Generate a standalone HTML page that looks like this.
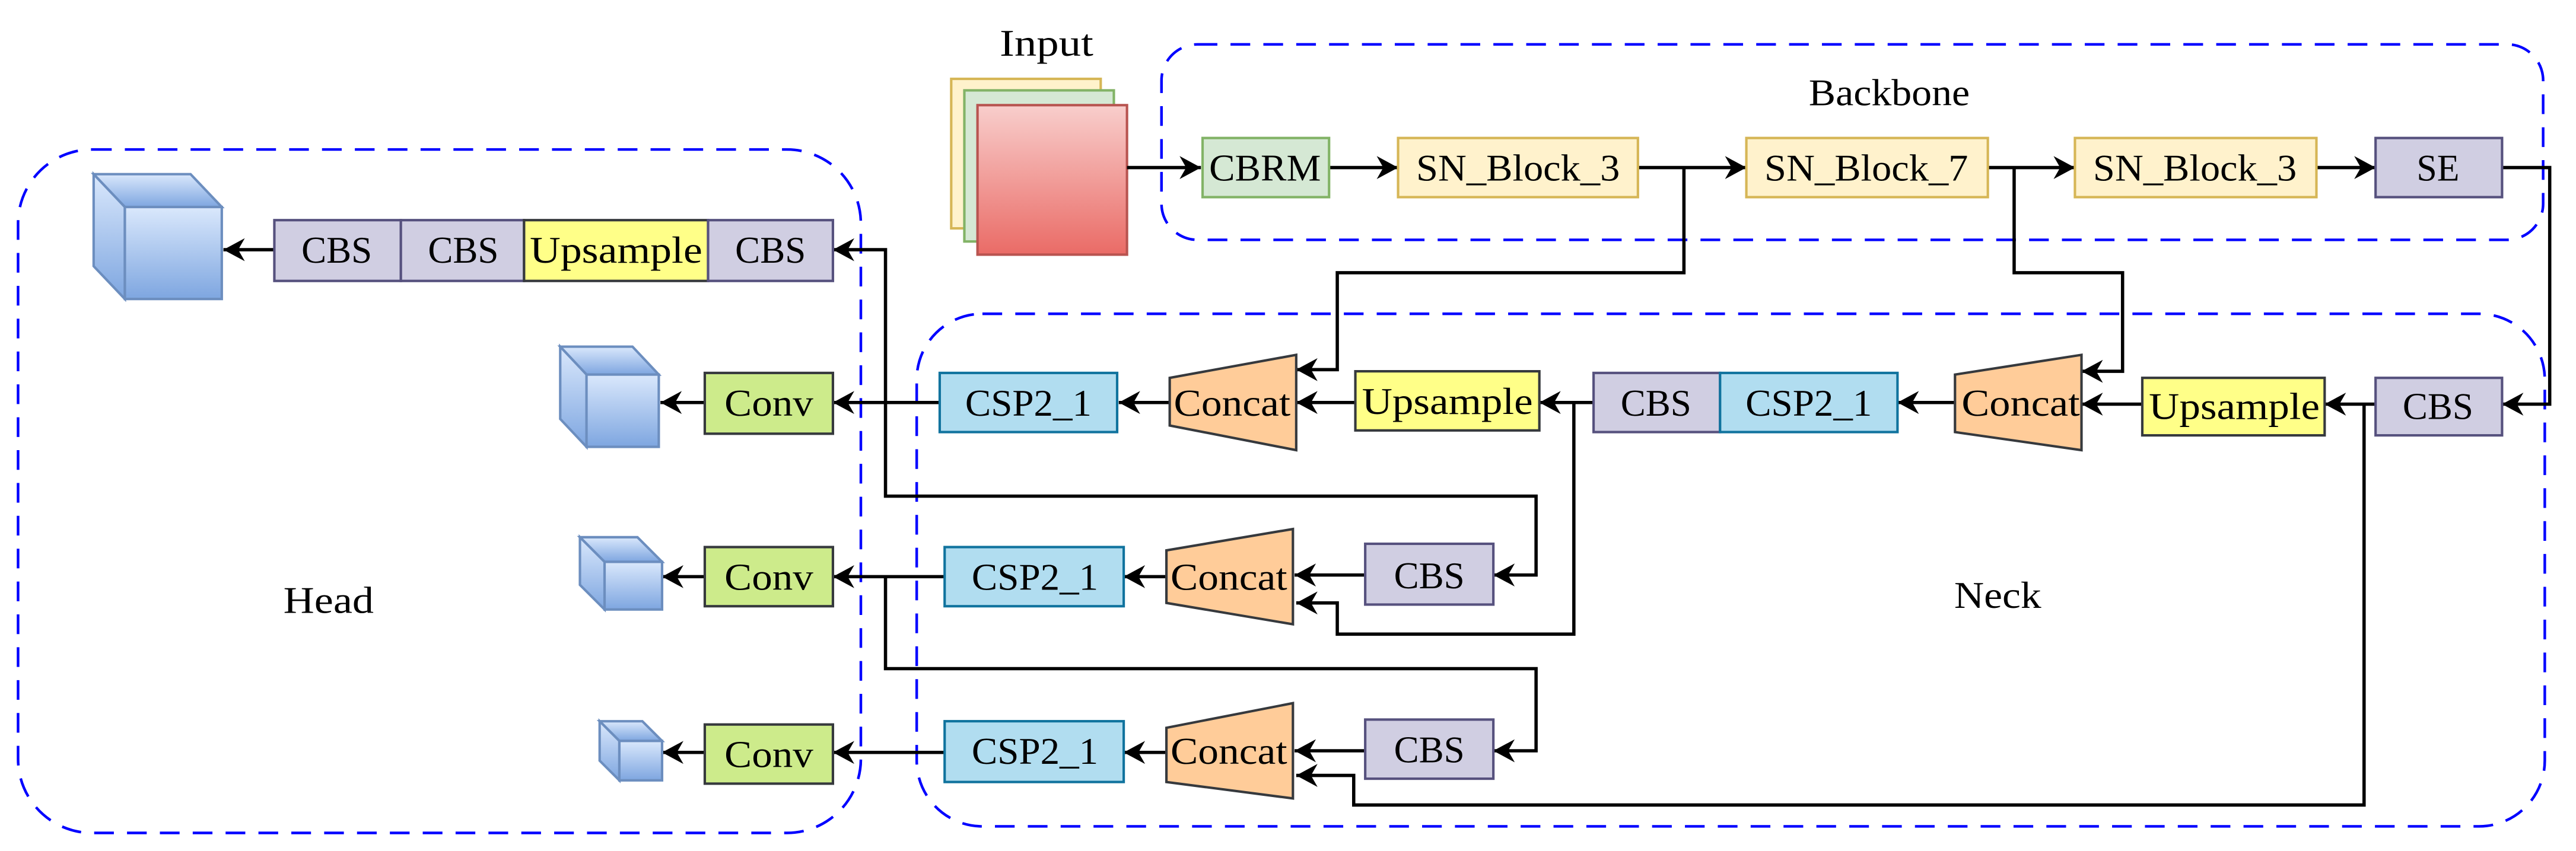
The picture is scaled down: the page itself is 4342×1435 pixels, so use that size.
<!DOCTYPE html>
<html><head><meta charset="utf-8"><style>
html,body{margin:0;padding:0;background:#fff}
svg{display:block}
text{font-family:"Liberation Serif",serif;font-size:23px;fill:#000}
</style></head><body>
<svg width="4342" height="1435" viewBox="0 0 1568 518" preserveAspectRatio="none" xmlns="http://www.w3.org/2000/svg">
<defs>
<marker id="a" markerUnits="userSpaceOnUse" markerWidth="14" markerHeight="14" refX="13" refY="7" orient="auto">
<path d="M0,0 L13,7 L0,14 L4,7 z" fill="#000"/>
</marker>
<linearGradient id="cube" x1="0" y1="0" x2="0" y2="1"><stop offset="0" stop-color="#dae8fc"/><stop offset="1" stop-color="#7ea6e0"/></linearGradient>
<linearGradient id="red" x1="0" y1="0" x2="0" y2="1"><stop offset="0" stop-color="#f8cecc"/><stop offset="1" stop-color="#ea6b66"/></linearGradient>
</defs>
<!-- dashed groups -->
<g fill="none" stroke="#0000ff" stroke-width="1.6" stroke-dasharray="12,8">
<rect x="707" y="27" width="841" height="119" rx="22"/>
<rect x="558" y="191" width="991" height="312" rx="40"/>
<rect x="11" y="91" width="513" height="416" rx="45"/>
</g>
<text x="637" y="34" text-anchor="middle" textLength="57" lengthAdjust="spacingAndGlyphs">Input</text>
<text x="1150" y="64" text-anchor="middle" textLength="98" lengthAdjust="spacingAndGlyphs">Backbone</text>
<text x="200" y="373" text-anchor="middle" textLength="55" lengthAdjust="spacingAndGlyphs">Head</text>
<text x="1216" y="370" text-anchor="middle" textLength="53" lengthAdjust="spacingAndGlyphs">Neck</text>
<!-- input stack -->
<rect x="579" y="48" width="91" height="91" fill="#fff2cc" stroke="#d6b656" stroke-width="1.5"/>
<rect x="587" y="55" width="91" height="92" fill="#d5e8d4" stroke="#82b366" stroke-width="1.5"/>
<rect x="595" y="64" width="91" height="91" fill="url(#red)" stroke="#b85450" stroke-width="1.5"/>
<!-- connectors -->
<g fill="none" stroke="#000" stroke-width="2" marker-end="url(#a)">
<path d="M686,102 L731,102"/>
<path d="M809,102 L851,102"/>
<path d="M997,102 L1063,102"/>
<path d="M1210,102 L1263,102"/>
<path d="M1410,102 L1446,102"/>
<path d="M1523,102 L1552,102 L1552,246 L1523,246"/>
<path d="M1025,102 L1025,166 L814,166 L814,225 L789,225"/>
<path d="M1226,102 L1226,166 L1292,166 L1292,226 L1267,226"/>
<path d="M1446,246 L1415,246"/>
<path d="M1439,246 L1439,490 L824,490 L824,472 L789,472"/>
<path d="M1304,246 L1267,246"/>
<path d="M1190,245 L1155,245"/>
<path d="M970,245 L937,245"/>
<path d="M958,245 L958,386 L814,386 L814,367 L789,367"/>
<path d="M825,245 L789,245"/>
<path d="M712,245 L681,245"/>
<path d="M572,245 L507,245"/>
<path d="M429,245 L402,245"/>
<path d="M539,245 L539,152 L507,152"/>
<path d="M539,245 L539,302 L935,302 L935,350 L909,350"/>
<path d="M167,152 L136,152"/>
<path d="M831,350 L788,350"/>
<path d="M710,351 L684,351"/>
<path d="M575,351 L507,351"/>
<path d="M429,351 L403,351"/>
<path d="M539,351 L539,407 L935,407 L935,457 L909,457"/>
<path d="M831,457 L788,457"/>
<path d="M710,458 L684,458"/>
<path d="M575,458 L507,458"/>
<path d="M429,458 L403,458"/>
</g>
<!-- backbone boxes -->
<g stroke-width="1.5">
<rect x="732" y="84" width="77" height="36" fill="#d5e8d4" stroke="#82b366"/>
<rect x="851" y="84" width="146" height="36" fill="#fff2cc" stroke="#d6b656"/>
<rect x="1063" y="84" width="147" height="36" fill="#fff2cc" stroke="#d6b656"/>
<rect x="1263" y="84" width="147" height="36" fill="#fff2cc" stroke="#d6b656"/>
<rect x="1446" y="84" width="77" height="36" fill="#d0cee2" stroke="#56517e"/>
<!-- neck top row -->
<rect x="1446" y="230" width="77" height="35" fill="#d0cee2" stroke="#56517e"/>
<rect x="1304" y="230" width="111" height="35" fill="#ffff88" stroke="#36393d"/>
<polygon points="1190,228 1267,216 1267,274 1190,263" fill="#ffcc99" stroke="#36393d"/>
<rect x="970" y="227" width="77" height="36" fill="#d0cee2" stroke="#56517e"/>
<rect x="1047" y="227" width="108" height="36" fill="#b1ddf0" stroke="#10739e"/>
<rect x="825" y="226" width="112" height="36" fill="#ffff88" stroke="#36393d"/>
<polygon points="712,230 789,216 789,274 712,259" fill="#ffcc99" stroke="#36393d"/>
<rect x="572" y="227" width="108" height="36" fill="#b1ddf0" stroke="#10739e"/>
<rect x="429" y="227" width="78" height="37" fill="#cdeb8b" stroke="#36393d"/>
<!-- middle -->
<rect x="831" y="331" width="78" height="37" fill="#d0cee2" stroke="#56517e"/>
<polygon points="710,335 787,322 787,380 710,367" fill="#ffcc99" stroke="#36393d"/>
<rect x="575" y="333" width="109" height="36" fill="#b1ddf0" stroke="#10739e"/>
<rect x="429" y="333" width="78" height="36" fill="#cdeb8b" stroke="#36393d"/>
<!-- bottom -->
<rect x="831" y="438" width="78" height="36" fill="#d0cee2" stroke="#56517e"/>
<polygon points="710,443 787,428 787,486 710,476" fill="#ffcc99" stroke="#36393d"/>
<rect x="575" y="439" width="109" height="37" fill="#b1ddf0" stroke="#10739e"/>
<rect x="429" y="441" width="78" height="36" fill="#cdeb8b" stroke="#36393d"/>
<!-- head top row -->
<rect x="167" y="134" width="77" height="37" fill="#d0cee2" stroke="#56517e"/>
<rect x="244" y="134" width="75" height="37" fill="#d0cee2" stroke="#56517e"/>
<rect x="319" y="134" width="112" height="37" fill="#ffff88" stroke="#36393d"/>
<rect x="431" y="134" width="76" height="37" fill="#d0cee2" stroke="#56517e"/>
</g>
<!-- cubes -->
<g fill="url(#cube)" stroke="#6c8ebf" stroke-width="1.5">
<polygon points="57,106 116,106 135,126 76,126"/><polygon points="57,106 76,126 76,182 57,162"/><rect x="76" y="126" width="59" height="56"/>
<polygon points="341,211 385,211 401,228 357,228"/><polygon points="341,211 357,228 357,272 341,255"/><rect x="357" y="228" width="44" height="44"/>
<polygon points="353,327 388,327 403,342 368,342"/><polygon points="353,327 368,342 368,371 353,356"/><rect x="368" y="342" width="35" height="29"/>
<polygon points="365,439 391,439 403,451 377,451"/><polygon points="365,439 377,451 377,475 365,463"/><rect x="377" y="451" width="26" height="24"/>
</g>
<!-- labels -->
<g text-anchor="middle" lengthAdjust="spacingAndGlyphs">
<text x="770" y="110" textLength="68" lengthAdjust="spacingAndGlyphs">CBRM</text>
<text x="924" y="110" textLength="124" lengthAdjust="spacingAndGlyphs">SN_Block_3</text>
<text x="1136" y="110" textLength="124" lengthAdjust="spacingAndGlyphs">SN_Block_7</text>
<text x="1336" y="110" textLength="124" lengthAdjust="spacingAndGlyphs">SN_Block_3</text>
<text x="1484" y="110" textLength="26" lengthAdjust="spacingAndGlyphs">SE</text>
<text x="1484" y="255" textLength="43" lengthAdjust="spacingAndGlyphs">CBS</text>
<text x="1360" y="255" textLength="104" lengthAdjust="spacingAndGlyphs">Upsample</text>
<text x="1230" y="253" textLength="72" lengthAdjust="spacingAndGlyphs">Concat</text>
<text x="1008" y="253" textLength="43" lengthAdjust="spacingAndGlyphs">CBS</text>
<text x="1101" y="253" textLength="77" lengthAdjust="spacingAndGlyphs">CSP2_1</text>
<text x="881" y="252" textLength="104" lengthAdjust="spacingAndGlyphs">Upsample</text>
<text x="750" y="253" textLength="71" lengthAdjust="spacingAndGlyphs">Concat</text>
<text x="626" y="253" textLength="77" lengthAdjust="spacingAndGlyphs">CSP2_1</text>
<text x="468" y="253" textLength="54" lengthAdjust="spacingAndGlyphs">Conv</text>
<text x="870" y="358" textLength="43" lengthAdjust="spacingAndGlyphs">CBS</text>
<text x="748" y="359" textLength="71" lengthAdjust="spacingAndGlyphs">Concat</text>
<text x="630" y="359" textLength="77" lengthAdjust="spacingAndGlyphs">CSP2_1</text>
<text x="468" y="359" textLength="54" lengthAdjust="spacingAndGlyphs">Conv</text>
<text x="870" y="464" textLength="43" lengthAdjust="spacingAndGlyphs">CBS</text>
<text x="748" y="465" textLength="71" lengthAdjust="spacingAndGlyphs">Concat</text>
<text x="630" y="465" textLength="77" lengthAdjust="spacingAndGlyphs">CSP2_1</text>
<text x="468" y="467" textLength="54" lengthAdjust="spacingAndGlyphs">Conv</text>
<text x="205" y="160" textLength="43" lengthAdjust="spacingAndGlyphs">CBS</text>
<text x="282" y="160" textLength="43" lengthAdjust="spacingAndGlyphs">CBS</text>
<text x="375" y="160" textLength="105" lengthAdjust="spacingAndGlyphs">Upsample</text>
<text x="469" y="160" textLength="43" lengthAdjust="spacingAndGlyphs">CBS</text>
</g>
</svg>
</body></html>
